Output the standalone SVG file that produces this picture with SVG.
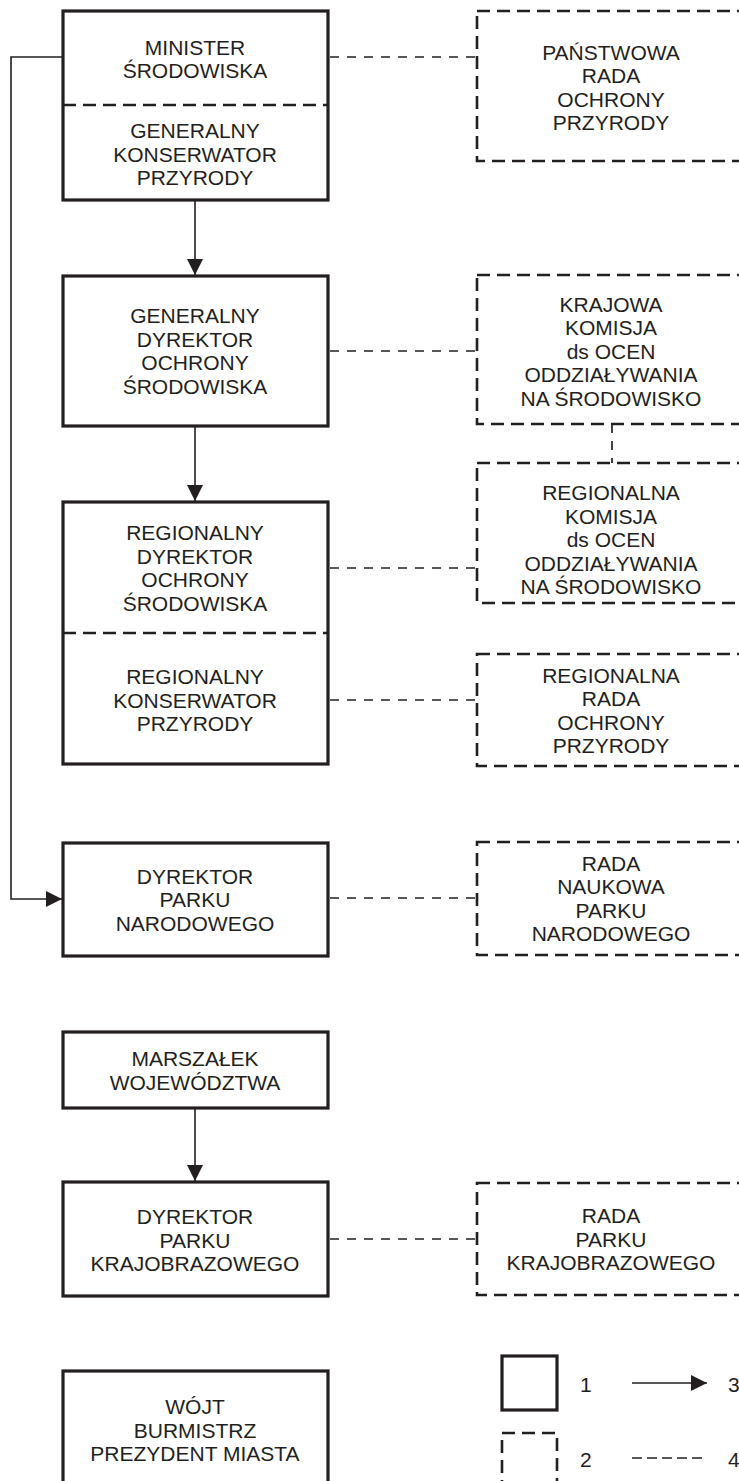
<svg xmlns="http://www.w3.org/2000/svg" width="739" height="1481" viewBox="0 0 739 1481">
<defs>
<marker id="ah" markerUnits="userSpaceOnUse" markerWidth="16" markerHeight="16" refX="16" refY="8" orient="auto">
<path d="M0,0 L16,8 L0,16 z" fill="#231f20"/>
</marker>
<style>
.box{fill:#fff;stroke:#231f20;stroke-width:3.2}
.dbox{fill:none;stroke:#231f20;stroke-width:2.6;stroke-dasharray:13 7}
.div{stroke:#231f20;stroke-width:2.6;stroke-dasharray:13 7;fill:none}
.ln{stroke:#231f20;stroke-width:1.6;fill:none}
.dl{stroke:#231f20;stroke-width:1.7;fill:none;stroke-dasharray:9 8}
text{font-family:"Liberation Sans",Arial,sans-serif;font-size:21px;fill:#231f20;text-anchor:middle}
.lg{text-anchor:start}
</style>
</defs>
<rect width="739" height="1481" fill="#fff"/>

<g id="connectors">
<path class="ln" d="M62 57 H11 V899 H62" marker-end="url(#ah)"/>
<line class="ln" x1="195" y1="200" x2="195" y2="275" marker-end="url(#ah)"/>
<line class="ln" x1="195" y1="426" x2="195" y2="501" marker-end="url(#ah)"/>
<line class="ln" x1="195" y1="1108" x2="195" y2="1181" marker-end="url(#ah)"/>
<line class="dl" x1="330" y1="57" x2="477" y2="57"/>
<line class="dl" x1="330" y1="351" x2="477" y2="351"/>
<line class="dl" x1="330" y1="568" x2="477" y2="568"/>
<line class="dl" x1="330" y1="700" x2="477" y2="700"/>
<line class="dl" x1="330" y1="898" x2="477" y2="898"/>
<line class="dl" x1="330" y1="1239" x2="477" y2="1239"/>
<line class="dl" x1="612" y1="424" x2="612" y2="463"/>
</g>

<g id="minister">
<rect class="box" x="63" y="11" width="265" height="189"/>
<line class="div" x1="63" y1="105" x2="328" y2="105"/>
<text x="195" y="54.5">MINISTER</text>
<text x="195" y="78">ŚRODOWISKA</text>
<text x="195" y="138">GENERALNY</text>
<text x="195" y="161.5">KONSERWATOR</text>
<text x="195" y="185">PRZYRODY</text>
</g>

<g id="panstwowa-rada">
<rect class="dbox" x="477" y="11" width="269" height="150"/>
<text x="611" y="59.5">PAŃSTWOWA</text>
<text x="611" y="83">RADA</text>
<text x="611" y="106.5">OCHRONY</text>
<text x="611" y="130">PRZYRODY</text>
</g>

<g id="gdos">
<rect class="box" x="63" y="276" width="265" height="150"/>
<text x="195" y="323">GENERALNY</text>
<text x="195" y="346.5">DYREKTOR</text>
<text x="195" y="370">OCHRONY</text>
<text x="195" y="393.5">ŚRODOWISKA</text>
</g>

<g id="krajowa-komisja">
<rect class="dbox" x="477" y="275" width="269" height="149"/>
<text x="611" y="311.5">KRAJOWA</text>
<text x="611" y="335">KOMISJA</text>
<text x="611" y="358.5">ds OCEN</text>
<text x="611" y="382">ODDZIAŁYWANIA</text>
<text x="611" y="405.5">NA ŚRODOWISKO</text>
</g>

<g id="rdos">
<rect class="box" x="63" y="502" width="265" height="262"/>
<line class="div" x1="63" y1="633" x2="328" y2="633"/>
<text x="195" y="540">REGIONALNY</text>
<text x="195" y="563.5">DYREKTOR</text>
<text x="195" y="587">OCHRONY</text>
<text x="195" y="610.5">ŚRODOWISKA</text>
<text x="195" y="684">REGIONALNY</text>
<text x="195" y="707.5">KONSERWATOR</text>
<text x="195" y="731">PRZYRODY</text>
</g>

<g id="regionalna-komisja">
<rect class="dbox" x="477" y="463" width="269" height="140"/>
<text x="611" y="500">REGIONALNA</text>
<text x="611" y="523.5">KOMISJA</text>
<text x="611" y="547">ds OCEN</text>
<text x="611" y="570.5">ODDZIAŁYWANIA</text>
<text x="611" y="594">NA ŚRODOWISKO</text>
</g>

<g id="regionalna-rada">
<rect class="dbox" x="477" y="654" width="269" height="112"/>
<text x="611" y="682.5">REGIONALNA</text>
<text x="611" y="706">RADA</text>
<text x="611" y="729.5">OCHRONY</text>
<text x="611" y="753">PRZYRODY</text>
</g>

<g id="dyrektor-pn">
<rect class="box" x="63" y="843" width="265" height="113"/>
<text x="195" y="883.5">DYREKTOR</text>
<text x="195" y="907">PARKU</text>
<text x="195" y="930.5">NARODOWEGO</text>
</g>

<g id="rada-naukowa">
<rect class="dbox" x="477" y="842" width="269" height="113"/>
<text x="611" y="870.5">RADA</text>
<text x="611" y="894">NAUKOWA</text>
<text x="611" y="917.5">PARKU</text>
<text x="611" y="941">NARODOWEGO</text>
</g>

<g id="marszalek">
<rect class="box" x="63" y="1032" width="265" height="76"/>
<text x="195" y="1066">MARSZAŁEK</text>
<text x="195" y="1089.5">WOJEWÓDZTWA</text>
</g>

<g id="dyrektor-pk">
<rect class="box" x="63" y="1182" width="265" height="114"/>
<text x="195" y="1224">DYREKTOR</text>
<text x="195" y="1247.5">PARKU</text>
<text x="195" y="1271">KRAJOBRAZOWEGO</text>
</g>

<g id="rada-parku">
<rect class="dbox" x="477" y="1183" width="269" height="112"/>
<text x="611" y="1223">RADA</text>
<text x="611" y="1246.5">PARKU</text>
<text x="611" y="1270">KRAJOBRAZOWEGO</text>
</g>

<g id="wojt">
<rect class="box" x="63" y="1371" width="265" height="130"/>
<text x="195" y="1414">WÓJT</text>
<text x="195" y="1437.5">BURMISTRZ</text>
<text x="195" y="1461">PREZYDENT MIASTA</text>
</g>

<g id="legend">
<rect class="box" x="502" y="1356" width="55" height="54"/>
<text class="lg" x="580" y="1391.5">1</text>
<line class="ln" x1="632" y1="1383" x2="707" y2="1383" marker-end="url(#ah)"/>
<text class="lg" x="728" y="1391.5">3</text>
<rect class="dbox" x="502" y="1433" width="55" height="55"/>
<text class="lg" x="580" y="1466.5">2</text>
<line class="dl" x1="632" y1="1458" x2="703" y2="1458" style="stroke-dasharray:10 5"/>
<text class="lg" x="728" y="1466.5">4</text>
</g>
</svg>
